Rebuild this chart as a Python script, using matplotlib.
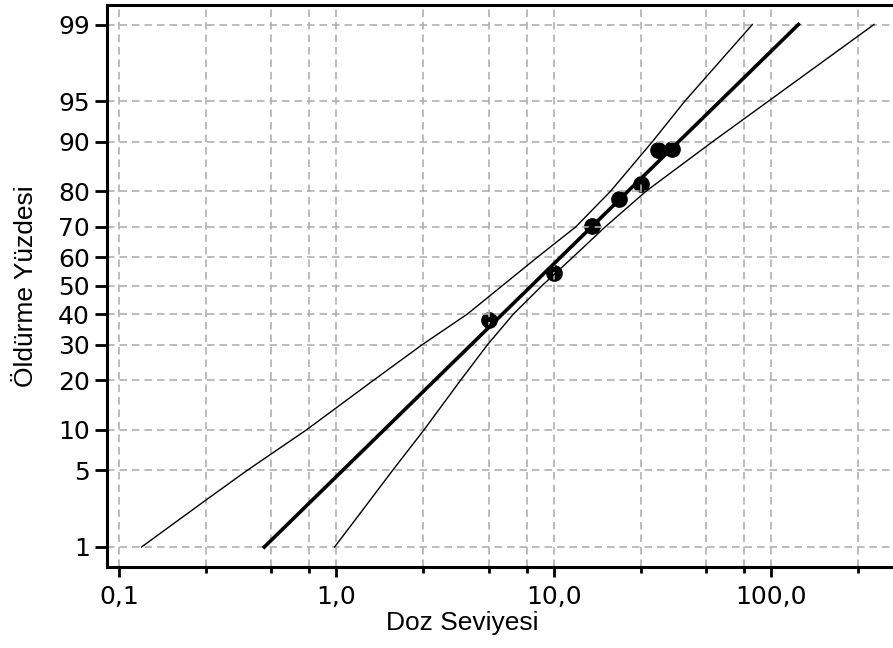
import math
import numpy as np
import matplotlib
matplotlib.use('Agg')
from matplotlib import pyplot as plt
from matplotlib.ticker import FixedLocator, FixedFormatter, NullFormatter

# observed data
dose = [5, 10, 15, 20, 25, 30, 35]
kill_pct = [38.1, 54.5, 70.4, 77.9, 81.7, 88.6, 88.9]

# fitted probit line (end points)
fit_dose = [0.466, 133.0]
fit_pct = [1, 99]

# confidence bands
upper_dose = [0.127, 0.25, 0.388, 0.73, 1.48, 2.48, 3.99, 5.78, 8.38, 12.6, 18.2, 28.3, 40.0, 81.7]
upper_pct = [1, 2.8, 5, 10, 20, 30, 40, 50, 60, 70, 80, 90, 95, 99]
lower_dose = [0.98, 1.24, 1.81, 2.53, 3.72, 4.95, 6.5, 8.8, 12.2, 17.2, 26.5, 53.5, 97.0, 296.0]
lower_pct = [1, 1.94, 5, 10, 20, 30, 40, 50, 60, 70, 80, 90, 95, 99]

x_major = [0.1, 1, 10, 100]
x_major_labels = ['0,1', '1,0', '10,0', '100,0']
x_minor = [0.25, 0.5, 0.75, 2.5, 5, 7.5, 25, 50, 75, 250]
y_ticks = [1, 5, 10, 20, 30, 40, 50, 60, 70, 80, 90, 95, 99]


def norm_ppf(p):
    p = np.atleast_1d(np.asarray(p, dtype=float))
    shape = p.shape
    p = np.clip(p.ravel(), 1e-12, 1 - 1e-12)
    a = [-3.969683028665376e+01, 2.209460984245205e+02, -2.759285104469687e+02,
         1.383577518672690e+02, -3.066479806614716e+01, 2.506628277459239e+00]
    b = [-5.447609879822406e+01, 1.615858368580409e+02, -1.556989798598866e+02,
         6.680131188771972e+01, -1.328068155288572e+01]
    c = [-7.784894002430293e-03, -3.223964580411365e-01, -2.400758277161838e+00,
         -2.549671010243284e+00, 4.374664141464968e+00, 2.938163982698783e+00]
    d = [7.784695709041462e-03, 3.224671290700398e-01, 2.445134137142996e+00,
         3.754408661907416e+00]
    plow = 0.02425
    z = np.empty_like(p)
    lo = p < plow
    hi = p > 1 - plow
    mid = ~(lo | hi)
    q = np.sqrt(-2 * np.log(p[lo]))
    z[lo] = (((((c[0]*q + c[1])*q + c[2])*q + c[3])*q + c[4])*q + c[5]) / \
        ((((d[0]*q + d[1])*q + d[2])*q + d[3])*q + 1)
    q = np.sqrt(-2 * np.log(1 - p[hi]))
    z[hi] = -(((((c[0]*q + c[1])*q + c[2])*q + c[3])*q + c[4])*q + c[5]) / \
        ((((d[0]*q + d[1])*q + d[2])*q + d[3])*q + 1)
    q = p[mid] - 0.5
    r = q * q
    z[mid] = (((((a[0]*r + a[1])*r + a[2])*r + a[3])*r + a[4])*r + a[5])*q / \
        (((((b[0]*r + b[1])*r + b[2])*r + b[3])*r + b[4])*r + 1)
    return z.reshape(shape)


_erf = np.vectorize(math.erf, otypes=[float])


def pct_to_z(y):
    return norm_ppf(np.asarray(y, dtype=float) / 100.0)


def z_to_pct(z):
    return 50.0 * (1 + _erf(np.asarray(z, dtype=float) / math.sqrt(2)))


fig = plt.figure(figsize=(8.93, 6.48), dpi=100)
ax = fig.add_axes([107/893, 1 - 566.5/648, 1 - 107/893, (566.5 - 5)/648])

ax.set_xscale('log')
ax.set_yscale('function', functions=(pct_to_z, z_to_pct))

ax.plot(dose, kill_pct, 'o', color='black', ms=11, zorder=0.4)
ax.plot(fit_dose, fit_pct, '-', color='black', lw=2.6, zorder=2)
ax.plot(upper_dose, upper_pct, '-', color='black', lw=1.0, zorder=2)
ax.plot(lower_dose, lower_pct, '-', color='black', lw=1.0, zorder=2)

ax.set_xlim(0.0881, 362)
ax.set_ylim(z_to_pct(-2.5), z_to_pct(2.5))

ax.xaxis.set_major_locator(FixedLocator(x_major))
ax.xaxis.set_major_formatter(FixedFormatter(x_major_labels))
ax.xaxis.set_minor_locator(FixedLocator(x_minor))
ax.xaxis.set_minor_formatter(NullFormatter())
ax.yaxis.set_major_locator(FixedLocator(y_ticks))
ax.yaxis.set_major_formatter(FixedFormatter([str(t) for t in y_ticks]))
ax.yaxis.set_minor_locator(FixedLocator([]))

ax.tick_params(axis='x', which='major', length=7, width=2, labelsize=18, pad=6)
ax.tick_params(axis='x', which='minor', length=4.5, width=2)
ax.tick_params(axis='y', which='major', length=9, width=2, labelsize=18, pad=3.5)

grid_kw = dict(color='#b0b0b0', lw=1.2, linestyle=(0, (4.5, 3)))
ax.grid(True, which='major', axis='both', **grid_kw)
ax.grid(True, which='minor', axis='x', **grid_kw)
ax.set_axisbelow(True)

for side in ['left', 'top', 'bottom']:
    ax.spines[side].set_linewidth(2.2)
ax.spines['right'].set_visible(False)

ax.set_xlabel('Doz Seviyesi', family='Liberation Sans', fontsize=19)
ax.set_ylabel('Öldürme Yüzdesi', family='Liberation Sans', fontsize=19)
ax.xaxis.set_label_coords((462 - 107) / (893 - 107), -0.08)
ax.yaxis.set_label_coords(-0.088, 0.5)

fig.savefig('out.png', dpi=100)
